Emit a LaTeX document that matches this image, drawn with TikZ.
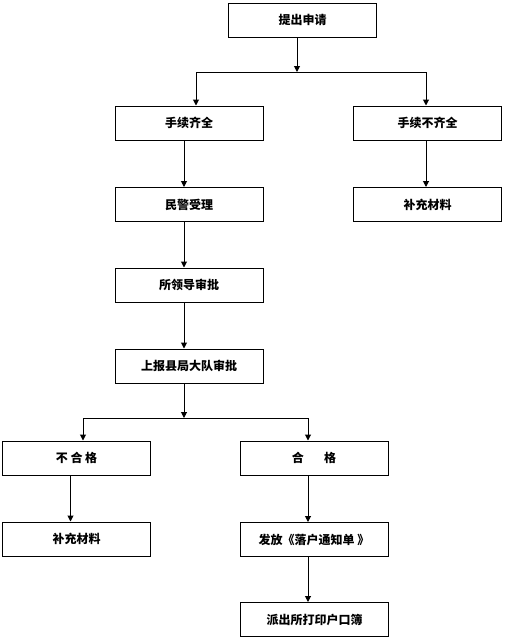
\documentclass[tikz,border=0pt]{standalone}
\usepackage{fontspec}
\newfontfamily\cjk{Noto Sans CJK SC}
\usetikzlibrary{arrows.meta,positioning}

\begin{document}
\begin{tikzpicture}[x=1pt, y=-1pt]
\tikzstyle{box} = [rectangle, draw=black, line width=1pt, minimum width=148pt,
  minimum height=34pt, inner sep=0pt, text centered,
  font=\cjk\bfseries\fontsize{12}{14}\selectfont]
\tikzstyle{line} = [line width=1pt]
\tikzstyle{arrow} = [line, -{Triangle[length=6pt,width=6pt]}]

\useasboundingbox (0,0) rectangle (504,640);

\node[box] (apply) at (302.5,20) {提出申请};
\node[box] (complete) at (189,123) {手续齐全};
\node[box] (incomplete) at (427.5,123) {手续不齐全};
\node[box] (police) at (189,204.5) {民警受理};
\node[box] (material) at (427.5,204.5) {补充材料};
\node[box] (leader) at (189,285) {所领导审批};
\node[box] (county) at (189,366) {上报县局大队审批};
\node[box] (fail) at (76.5,458) {不 合 格};
\node[box] (pass) at (314,458) {合\hspace{1.7em}格};
\node[box] (failmaterial) at (76.5,539) {补充材料};
\node[box] (notice) at (314,539.5) {发放《落户通知单 》};
\node[box] (print) at (314.5,619.5) {派出所打印户口簿};

% upper split
\coordinate (topsplit) at (297,72);
\coordinate (topleft) at (196,72);
\coordinate (topright) at (426,72);
\draw[arrow] (apply.south -| topsplit) -- (topsplit);
\draw[line] (topleft) -- (topright);
\draw[arrow] (topleft) -- (complete.north -| topleft);
\draw[arrow] (topright) -- (incomplete.north -| topright);
\draw[arrow] (incomplete.south -| topright) -- (material.north -| topright);

% left column
\coordinate (midsplit) at (184,418);
\draw[arrow] (complete.south -| midsplit) -- (police.north -| midsplit);
\draw[arrow] (police.south -| midsplit) -- (leader.north -| midsplit);
\draw[arrow] (leader.south -| midsplit) -- (county.north -| midsplit);
\draw[arrow] (county.south -| midsplit) -- (midsplit);

% lower split
\coordinate (lowleft) at (83,418);
\coordinate (lowright) at (308,418);
\draw[line] (lowleft) -- (lowright);
\draw[arrow] (lowleft) -- (fail.north -| lowleft);
\draw[arrow] (lowright) -- (pass.north -| lowright);
\draw[arrow] ([xshift=-6pt]fail.south) -- ([xshift=-6pt]failmaterial.north);
\draw[arrow] (pass.south -| lowright) -- (notice.north -| lowright);
\draw[arrow] (notice.south -| lowright) -- (print.north -| lowright);
\end{tikzpicture}
\end{document}
